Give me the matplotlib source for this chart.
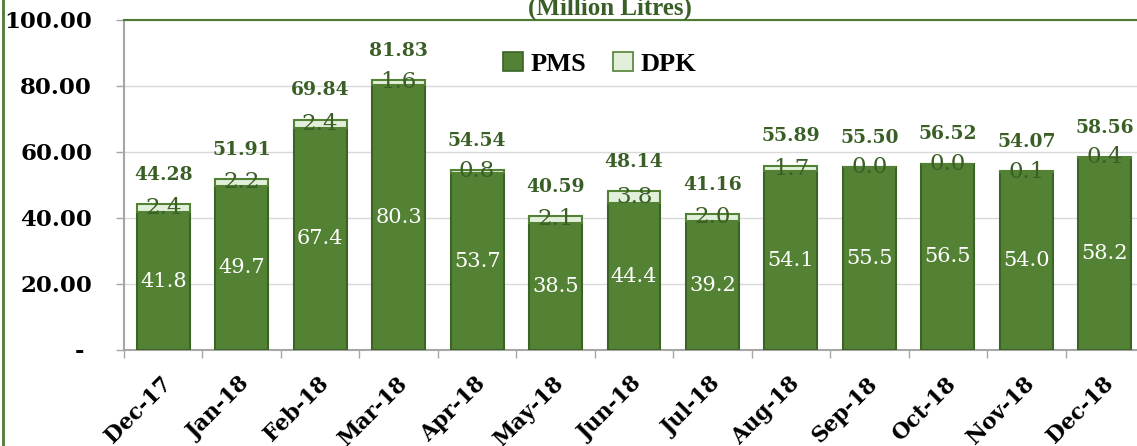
import matplotlib.pyplot as plt
import numpy as np
from matplotlib.lines import Line2D
from matplotlib.patches import Patch
import matplotlib.transforms as mtransforms

# Datos (millones de litros)
months = ['Dec-17', 'Jan-18', 'Feb-18', 'Mar-18', 'Apr-18', 'May-18', 'Jun-18',
          'Jul-18', 'Aug-18', 'Sep-18', 'Oct-18', 'Nov-18', 'Dec-18']
pms = [41.8, 49.7, 67.4, 80.3, 53.7, 38.5, 44.4, 39.2, 54.1, 55.5, 56.5, 54.0, 58.2]
dpk = [2.4, 2.2, 2.4, 1.6, 0.8, 2.1, 3.8, 2.0, 1.7, 0.0, 0.0, 0.1, 0.4]
totals = [44.28, 51.91, 69.84, 81.83, 54.54, 40.59, 48.14, 41.16, 55.89,
          55.50, 56.52, 54.07, 58.56]
y_ticks = [0, 20, 40, 60, 80, 100]
y_labels = ['- ', '20.00', '40.00', '60.00', '80.00', '100.00']

# Colores
pms_color = '#548235'
pms_edge = '#3b6325'
dpk_color = '#e2efda'
label_green = '#3a5f26'
serif_num = 'DejaVu Serif'
serif_txt = 'Liberation Serif'

W, H = 1137, 446
fig = plt.figure(figsize=(W / 100, H / 100), dpi=100)
ax = fig.add_axes([124 / W, 96 / H, 1020 / W, 330 / H])

x = np.arange(len(months))
bw = 0.675
ax.bar(x, pms, width=bw, color=pms_color, edgecolor=pms_edge, linewidth=1.5, zorder=3)
ax.bar(x, dpk, width=bw, bottom=pms, color=dpk_color, edgecolor=pms_color,
       linewidth=1.5, zorder=3)

# Etiquetas de datos
for i in range(len(months)):
    ax.text(x[i], pms[i] / 2, f'{pms[i]:.1f}', ha='center', va='center',
            color='white', fontsize=15, family=serif_num, zorder=4)
    ax.text(x[i], pms[i] + dpk[i] / 2, f'{dpk[i]:.1f}', ha='center', va='center',
            color=label_green, fontsize=16.5, family=serif_num, zorder=4)
    ax.annotate(f'{totals[i]:.2f}', (x[i], totals[i]), xytext=(0, 21),
                textcoords='offset points', ha='center', va='center',
                color=label_green, fontsize=13.5, fontweight='bold',
                family=serif_num, zorder=4)

# Ejes
ax.set_xlim(-0.5, len(months) - 0.5)
ax.set_ylim(0, 100)
ax.set_yticks(y_ticks)
ax.set_yticklabels(y_labels, fontsize=16.5, fontweight='bold', family=serif_num)
ax.set_xticks(x)
ax.set_xticklabels(months, rotation=45, ha='right', va='center',
                   rotation_mode='anchor', fontsize=15.5, fontweight='bold',
                   family=serif_num)
ax.set_xticks(np.arange(-0.5, len(months)), minor=True)
ax.tick_params(axis='x', which='major', length=0, pad=22)
ax.tick_params(axis='x', which='minor', length=6, color='#a6a6a6', width=1)
ax.tick_params(axis='y', length=6, color='#a6a6a6', width=1, pad=17)
for lab in ax.get_xticklabels():
    lab.set_transform(lab.get_transform() +
                      mtransforms.ScaledTranslation(5 / 100, 0, fig.dpi_scale_trans))

ax.grid(axis='y', color='#d9d9d9', linewidth=1, zorder=0)
ax.set_axisbelow(True)
ax.spines['left'].set_color('#a6a6a6')
ax.spines['bottom'].set_color('#a6a6a6')
ax.spines['left'].set_linewidth(1.5)
ax.spines['bottom'].set_linewidth(1.5)
ax.spines['top'].set_color('#4f7a32')
ax.spines['top'].set_linewidth(1.5)
ax.spines['right'].set_visible(False)

# Leyenda
handles = [Patch(facecolor=pms_color, edgecolor=pms_edge, linewidth=1.2, label='PMS'),
           Patch(facecolor=dpk_color, edgecolor=pms_color, linewidth=1.2, label='DPK')]
fig.legend(handles=handles, loc='center', bbox_to_anchor=(600 / W, 1 - 64 / H),
           ncol=2, frameon=False, handlelength=0.75, handleheight=0.75,
           handletextpad=0.3, columnspacing=1.0,
           prop={'family': serif_txt, 'weight': 'bold', 'size': 19})

# Título (recortado arriba)
fig.text(610 / W, 1 - 8 / H, '(Million Litres)', ha='center', va='center',
         color='#3a5f26', fontsize=18, fontweight='bold', family=serif_txt)

# Borde verde de la figura
fig.add_artist(Line2D([3 / W, 3 / W], [0, 1], color='#4f7a32', linewidth=2,
                      transform=fig.transFigure))

fig.savefig('out.png', dpi=100)
